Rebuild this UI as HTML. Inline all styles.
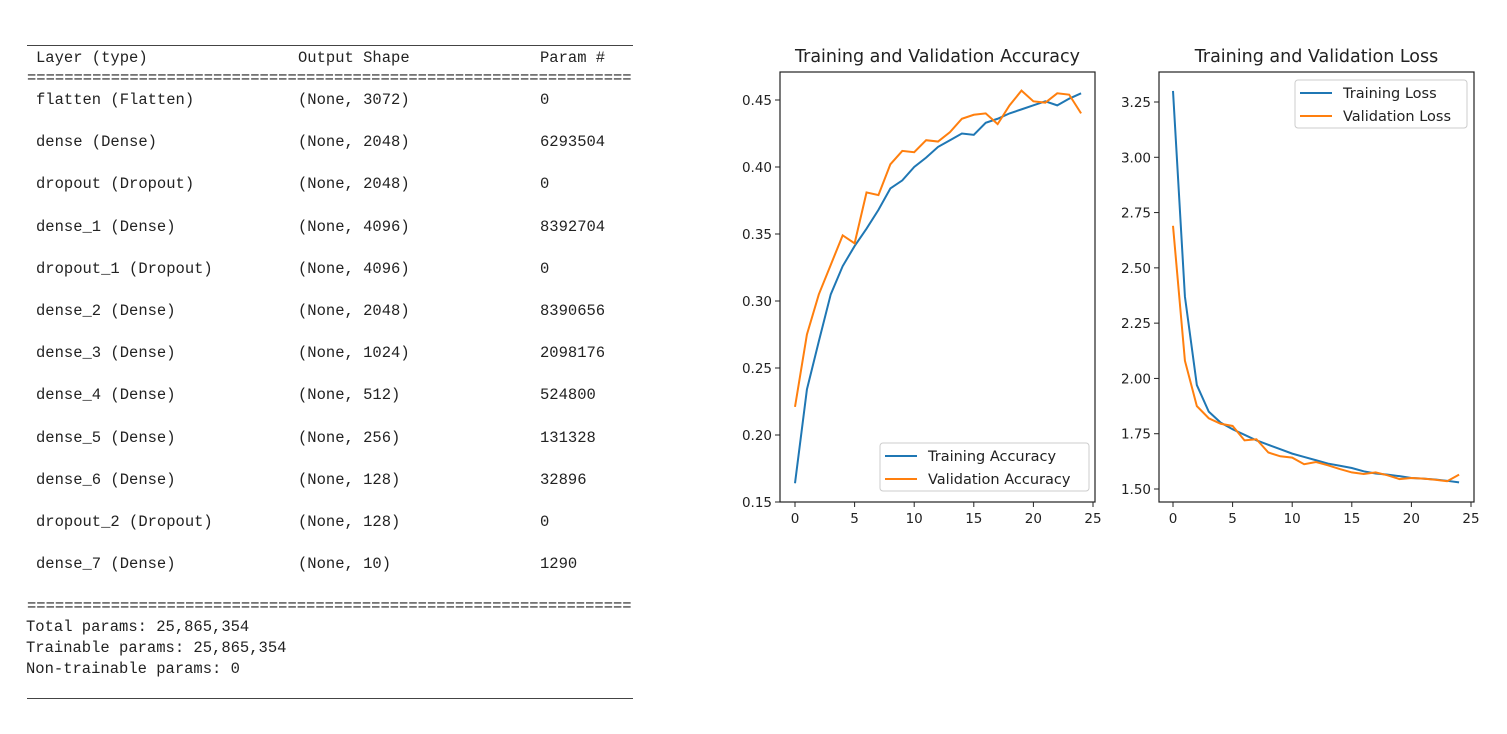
<!DOCTYPE html>
<html><head><meta charset="utf-8">
<style>
body{margin:0;background:#fff;width:1507px;height:734px;overflow:hidden;position:relative}
.t{position:absolute;font-family:"Liberation Mono",monospace;font-size:15.5px;color:#222;white-space:pre;line-height:16px}
.hl{position:absolute;left:27px;width:606px;height:0;border-top:1px solid #444}
</style></head><body>
<div>
<div class="hl" style="top:45px"></div>
<div class="t" style="left:36px;top:50px">Layer (type)</div>
<div class="t" style="left:298px;top:50px">Output Shape</div>
<div class="t" style="left:540px;top:50px">Param #</div>
<div class="t" style="left:27px;top:70px">=================================================================</div>
<div id="rows"></div>
<div class="t" style="left:27px;top:598px">=================================================================</div>
<div class="t" style="left:26px;top:619px">Total params: 25,865,354</div>
<div class="t" style="left:26px;top:640px">Trainable params: 25,865,354</div>
<div class="t" style="left:26px;top:661px">Non-trainable params: 0</div>
<div class="hl" style="top:698px"></div>
</div>
<svg id="charts" width="1507" height="734" style="position:absolute;left:0;top:0" font-family="DejaVu Sans, sans-serif"></svg>
<script>
const layers=["flatten (Flatten)","dense (Dense)","dropout (Dropout)","dense_1 (Dense)","dropout_1 (Dropout)","dense_2 (Dense)","dense_3 (Dense)","dense_4 (Dense)","dense_5 (Dense)","dense_6 (Dense)","dropout_2 (Dropout)","dense_7 (Dense)"];
const shapes=["(None, 3072)","(None, 2048)","(None, 2048)","(None, 4096)","(None, 4096)","(None, 2048)","(None, 1024)","(None, 512)","(None, 256)","(None, 128)","(None, 128)","(None, 10)"];
const params=["0","6293504","0","8392704","0","8390656","2098176","524800","131328","32896","0","1290"];
const rows=document.getElementById('rows');
layers.forEach((l,i)=>{
  const y=92+i*42.2;
  [[36,l,'layer-name'],[298,shapes[i],'output-shape'],[540,params[i],'param-count']].forEach(([x,txt,n])=>{
    const d=document.createElement('div');d.className='t';
    d.style.left=x+'px';d.style.top=y+'px';d.textContent=txt;
    
    
    rows.appendChild(d);
  });
});

const epochs=[...Array(25).keys()];
const trainAcc=[0.164,0.234,0.270,0.305,0.326,0.341,0.354,0.368,0.384,0.390,0.400,0.407,0.415,0.420,0.425,0.424,0.433,0.436,0.440,0.443,0.446,0.449,0.446,0.451,0.455];
const valAcc=[0.221,0.275,0.305,0.327,0.349,0.343,0.381,0.379,0.402,0.412,0.411,0.420,0.419,0.426,0.436,0.439,0.440,0.432,0.446,0.457,0.449,0.448,0.455,0.454,0.440];
const trainLoss=[3.30,2.37,1.97,1.85,1.80,1.77,1.745,1.72,1.70,1.68,1.66,1.645,1.63,1.615,1.605,1.595,1.58,1.57,1.565,1.558,1.55,1.547,1.543,1.537,1.53];
const valLoss=[2.69,2.08,1.875,1.82,1.795,1.785,1.72,1.725,1.665,1.648,1.642,1.612,1.622,1.607,1.59,1.575,1.568,1.575,1.562,1.545,1.55,1.547,1.542,1.535,1.565];
const accTicks=[0.15,0.20,0.25,0.30,0.35,0.40,0.45];
const lossTicks=[1.50,1.75,2.00,2.25,2.50,2.75,3.00,3.25];
const xTicks=[0,5,10,15,20,25];

const svg=document.getElementById('charts');
const NS='http://www.w3.org/2000/svg';
function mk(tag,attrs,parent){const e=document.createElementNS(NS,tag);for(const k in attrs)e.setAttribute(k,attrs[k]);(parent||svg).appendChild(e);return e;}

function chart(cfg){
  const g=mk('g',{});
  
  
  const X=v=>cfg.x0+(v-0)*(cfg.x25-cfg.x0)/25;
  const Y=v=>cfg.yA+(v-cfg.vA)*(cfg.yB-cfg.yA)/(cfg.vB-cfg.vA);
  const t=mk('text',{x:(cfg.L+cfg.R)/2,y:62,'text-anchor':'middle','font-size':17.5,fill:'#222'},g);
  t.textContent=cfg.title;
  
  
  xTicks.forEach(v=>{
    mk('line',{x1:X(v),x2:X(v),y1:cfg.B,y2:cfg.B+5,stroke:'#222'},g);
    const tx=mk('text',{x:X(v),y:cfg.B+21,'text-anchor':'middle','font-size':13.5,fill:'#222'},g);
    tx.textContent=v;
    
    
  });
  cfg.yTicks.forEach(v=>{
    mk('line',{x1:cfg.L-5,x2:cfg.L,y1:Y(v),y2:Y(v),stroke:'#222'},g);
    const ty=mk('text',{x:cfg.L-8,y:Y(v)+5,'text-anchor':'end','font-size':13.5,fill:'#222'},g);
    ty.textContent=v.toFixed(2);
    
    
  });
  [[cfg.s1,'#1f77b4',cfg.n1],[cfg.s2,'#ff7f0e',cfg.n2]].forEach(([s,c,n])=>{
    const p=mk('polyline',{points:s.map((v,i)=>X(epochs[i])+','+Y(v)).join(' '),fill:'none',stroke:c,'stroke-width':2},g);
    
    
  });
  mk('rect',{x:cfg.L,y:cfg.T,width:cfg.R-cfg.L,height:cfg.B-cfg.T,fill:'none',stroke:'#222','stroke-width':1.2},g);
  const lg=mk('g',{},g);
  
  
  mk('rect',{x:cfg.lx,y:cfg.ly,width:cfg.lw,height:48,rx:3,fill:'#fff',stroke:'#ccc'},lg);
  [[cfg.n1,'#1f77b4'],[cfg.n2,'#ff7f0e']].forEach(([n,c],i)=>{
    const yy=cfg.ly+13+i*23;
    mk('line',{x1:cfg.lx+5,x2:cfg.lx+37,y1:yy,y2:yy,stroke:c,'stroke-width':2},lg);
    const lt=mk('text',{x:cfg.lx+48,y:yy+5,'font-size':14.5,fill:'#222'},lg);
    lt.textContent=n;
    
    
  });
}
chart({name:'accuracy-chart',title:'Training and Validation Accuracy',L:780,R:1095,T:72,B:502,x0:795,x25:1093,
  vA:0.45,yA:100,vB:0.15,yB:502,yTicks:accTicks,s1:trainAcc,s2:valAcc,n1:'Training Accuracy',n2:'Validation Accuracy',lx:880,ly:443,lw:209});
chart({name:'loss-chart',title:'Training and Validation Loss',L:1159,R:1474,T:72,B:502,x0:1173,x25:1471,
  vA:3.25,yA:102,vB:1.50,yB:489,yTicks:lossTicks,s1:trainLoss,s2:valLoss,n1:'Training Loss',n2:'Validation Loss',lx:1295,ly:80,lw:172});
</script>
</body></html>
